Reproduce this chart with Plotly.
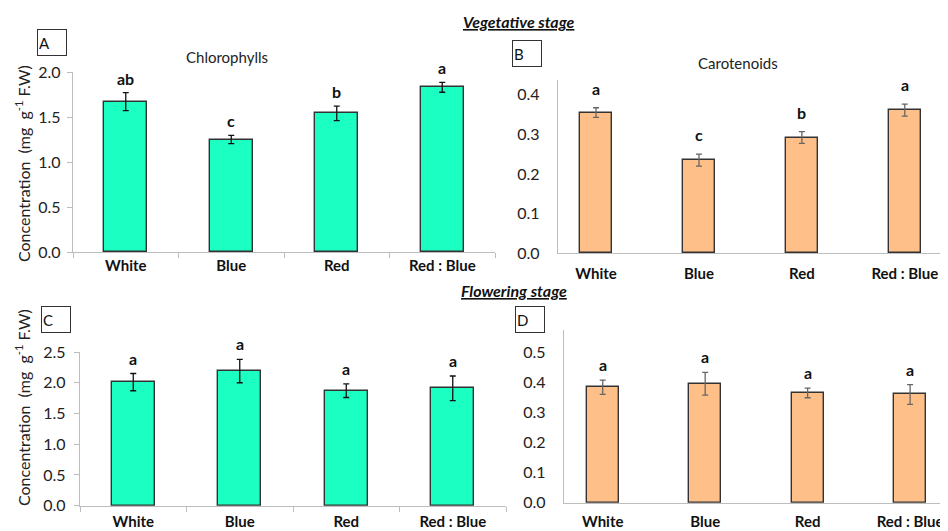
import plotly.graph_objects as go

categories = ["White", "Blue", "Red", "Red : Blue"]

chl_veg = [1.67, 1.25, 1.54, 1.83]
chl_veg_err = [0.10, 0.045, 0.08, 0.055]
chl_veg_letters = ["ab", "c", "b", "a"]

car_veg = [0.355, 0.235, 0.292, 0.361]
car_veg_err = [0.012, 0.015, 0.015, 0.015]
car_veg_letters = ["a", "c", "b", "a"]

chl_flo = [2.01, 2.19, 1.87, 1.91]
chl_flo_err = [0.14, 0.19, 0.11, 0.20]
chl_flo_letters = ["a", "a", "a", "a"]

car_flo = [0.385, 0.397, 0.366, 0.361]
car_flo_err = [0.024, 0.038, 0.016, 0.033]
car_flo_letters = ["a", "a", "a", "a"]

# page body has an 8px margin: figure occupies window pixels 8..948 x 8..531
OFF = 8
W, H = 948 - OFF, 531 - OFF
FONT = "Lato, 'Open Sans', sans-serif"
GREEN = "#1cffc2"
PEACH = "#ffbf88"


def fx(x):
    return (x - OFF) / W


def fy(y):
    return 1 - (y - OFF) / H


fig = go.Figure()

panels = [
    dict(n="", vals=chl_veg, err=chl_veg_err, let=chl_veg_letters, color=GREEN, ecol="#111",
         bw=0.41, xd=[fx(73), fx(495)], yd=[fy(252), fy(72)], yr=[0, 2.0], dt=0.5, xr=[-0.5, 3.5],
         yticks="outside", xticks="outside", xstand=0, ystand=3, lshift=3),
    dict(n="2", vals=car_veg, err=car_veg_err, let=car_veg_letters, color=PEACH, ecol="#666",
         bw=0.31, xd=[fx(558), 1.0], yd=[fy(253.3), fy(80)], yr=[0, 0.437], dt=0.1, xr=[-0.37, 3.42],
         yticks="", xticks="", xstand=7, ystand=14, lshift=8),
    dict(n="3", vals=chl_flo, err=chl_flo_err, let=chl_flo_letters, color=GREEN, ecol="#111",
         bw=0.40, xd=[fx(80), fx(506)], yd=[fy(505.7), fy(352)], yr=[0, 2.5], dt=0.5, xr=[-0.5, 3.5],
         yticks="outside", xticks="outside", xstand=2, ystand=5, lshift=4),
    dict(n="4", vals=car_flo, err=car_flo_err, let=car_flo_letters, color=PEACH, ecol="#666",
         bw=0.31, xd=[fx(564), 1.0], yd=[fy(502.7), fy(330)], yr=[0, 0.576], dt=0.1, xr=[-0.378, 3.37],
         yticks="", xticks="", xstand=5, ystand=14, lshift=4),
]

annotations = []
for p in panels:
    xa = "x" + p["n"]
    ya = "y" + p["n"]
    fig.add_trace(go.Bar(
        x=categories, y=p["vals"], width=p["bw"],
        marker=dict(color=p["color"], line=dict(color="#333", width=1.4)),
        error_y=dict(type="data", array=p["err"], color=p["ecol"], thickness=1.3, width=3),
        xaxis=xa, yaxis=ya, showlegend=False,
    ))
    axn = p["n"]
    fig.update_layout(**{
        "xaxis" + axn: dict(domain=p["xd"], anchor=ya, range=p["xr"], type="category",
                            automargin=False,
                            showline=True, linecolor="#bdbdbd", linewidth=1.3,
                            ticks=p["xticks"], tickson="boundaries", ticklen=5, tickcolor="#bdbdbd",
                            ticklabelstandoff=p["xstand"], showgrid=False, zeroline=False,
                            tickfont=dict(family=FONT, size=15, color="#111", weight="bold")),
        "yaxis" + axn: dict(domain=p["yd"], anchor=xa, range=p["yr"], dtick=p["dt"], tick0=0,
                            automargin=False,
                            tickformat=".1f", showline=True, linecolor="#bdbdbd", linewidth=1.3,
                            ticks=p["yticks"], ticklen=5, tickcolor="#bdbdbd",
                            ticklabelstandoff=p["ystand"], showgrid=False, zeroline=False,
                            tickfont=dict(family=FONT, size=16, color="#222")),
    })
    for c, v, e, t in zip(categories, p["vals"], p["err"], p["let"]):
        annotations.append(dict(x=c, y=v + e, xref=xa, yref=ya, text="<b>" + t + "</b>",
                                showarrow=False, xanchor="center", yanchor="bottom", yshift=p["lshift"],
                                font=dict(family=FONT, size=16, color="#111")))

# panel letter boxes
for lab, x0, y0 in [("A", 37, 29), ("B", 512, 40), ("C", 41, 306), ("D", 515, 306)]:
    annotations.append(dict(x=fx(x0), y=fy(y0), xref="paper", yref="paper", xanchor="left",
                            yanchor="top", text=lab, showarrow=False, align="left",
                            width=26, height=23, bordercolor="#333", borderwidth=1, borderpad=1,
                            font=dict(family=FONT, size=15, color="#111")))


def label(x, y, text, size=15, color="#222", angle=0):
    return dict(x=fx(x), y=fy(y), xref="paper", yref="paper", xanchor="center", yanchor="middle",
                text=text, showarrow=False, textangle=angle,
                font=dict(family=FONT, size=size, color=color))


ylab = "Concentration  (mg  g<sup>-1</sup> F.W)"
annotations += [
    label(227, 57, "Chlorophylls"),
    label(738, 63, "Carotenoids"),
    label(519, 22, "<b><i><u>Vegetative stage</u></i></b>", size=16, color="#111"),
    label(514, 290, "<b><i><u>Flowering stage</u></i></b>", size=16, color="#111"),
    label(22, 164, ylab, size=16, angle=-90),
    label(22, 408, ylab, size=16, angle=-90),
]

fig.update_layout(template="none", width=W, height=H, margin=dict(l=0, r=0, t=0, b=0, pad=0),
                  paper_bgcolor="white", plot_bgcolor="white",
                  annotations=annotations, bargap=0, showlegend=False)

fig.write_html("out.html")
